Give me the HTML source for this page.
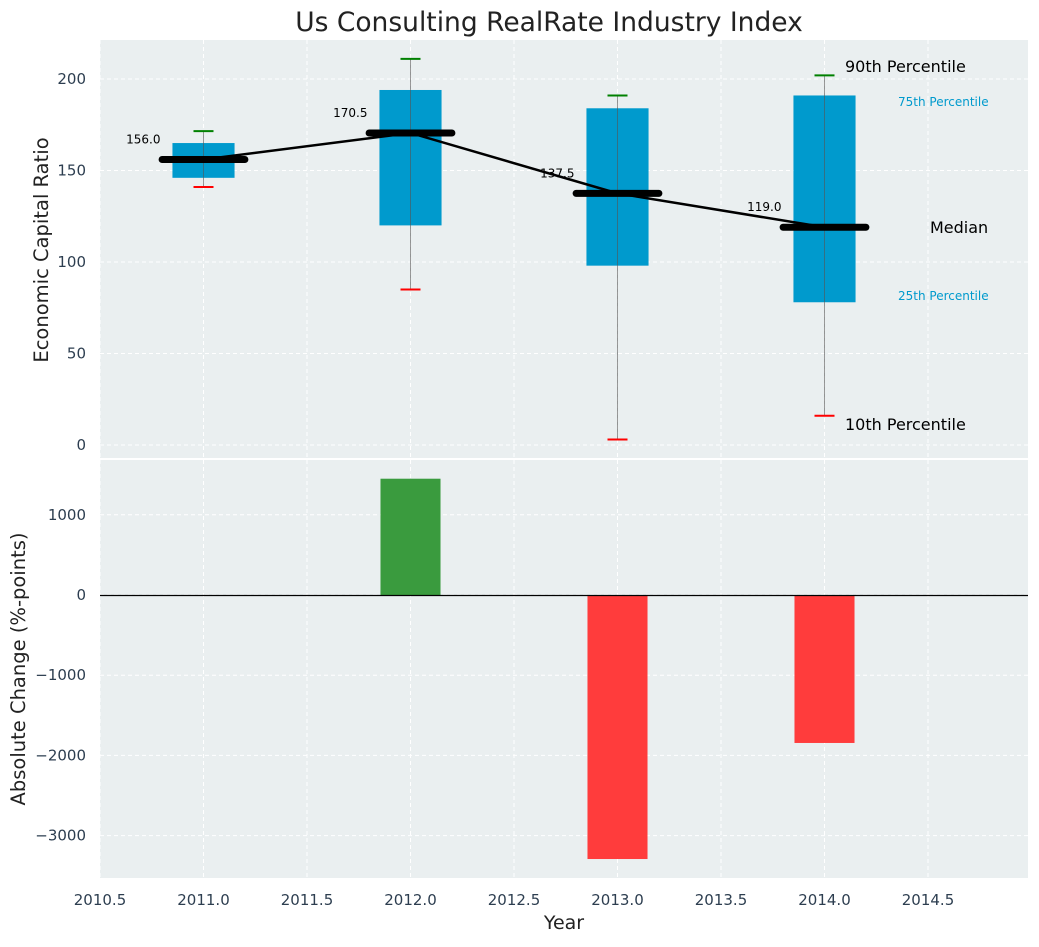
<!DOCTYPE html>
<html><head><meta charset="utf-8"><style>
body{margin:0;background:#fff;font-family:"Liberation Sans","DejaVu Sans",sans-serif}
svg text{font-family:"DejaVu Sans","Liberation Sans",sans-serif}
</style></head><body>
<svg id="c" width="1039" height="942" xmlns="http://www.w3.org/2000/svg"></svg>
<script>
const years=[2011,2012,2013,2014];
const p10=[141,85,3,16];
const p25=[146,120,98,78];
const med=[156,170.5,137.5,119];
const p75=[165,194,184,191];
const p90=[171.5,211,191,202];
const changes=[0,1450,-3292,-1845];
const xTicks=[2010.5,2011,2011.5,2012,2012.5,2013,2013.5,2014,2014.5];
const yTopTicks=[0,50,100,150,200];
const yBotTicks=[-3000,-2000,-1000,0,1000];

const L=100,R=1028,T1=40,B1=458,T2=460,B2=878;
const X=v=>L+(v-2010.5)*207;
const Y1=v=>445-(v)*1.83;
const Y2=v=>595-v*0.0802;
const svg=document.getElementById('c');
const NS='http://www.w3.org/2000/svg';
function el(t,a,txt){const e=document.createElementNS(NS,t);for(const k in a)e.setAttribute(k,a[k]);if(txt!==undefined)e.textContent=txt;svg.appendChild(e);return e;}

let e;
e=el('rect',{x:L,y:T1,width:R-L,height:B1-T1,fill:'#eaeff0'});


e=el('rect',{x:L,y:T2,width:R-L,height:B2-T2,fill:'#eaeff0'});



xTicks.forEach(t=>{
  el('line',{x1:X(t),x2:X(t),y1:T1,y2:B1,stroke:'#fff','stroke-dasharray':'4,3','stroke-width':1});
  el('line',{x1:X(t),x2:X(t),y1:T2,y2:B2,stroke:'#fff','stroke-dasharray':'4,3','stroke-width':1});
  e=el('text',{x:X(t),y:905,'font-size':15,fill:'#2d3e50','text-anchor':'middle'},t.toFixed(1));
  
  
});
yTopTicks.forEach(t=>{
  el('line',{x1:L,x2:R,y1:Y1(t),y2:Y1(t),stroke:'#fff','stroke-dasharray':'4,3'});
  e=el('text',{x:86,y:Y1(t)+5,'font-size':15,fill:'#2d3e50','text-anchor':'end'},t);
  
  
});
yBotTicks.forEach(t=>{
  el('line',{x1:L,x2:R,y1:Y2(t),y2:Y2(t),stroke:'#fff','stroke-dasharray':'4,3'});
  e=el('text',{x:86,y:Y2(t)+5,'font-size':15,fill:'#2d3e50','text-anchor':'end'},t<0?'\u2212'+(-t):t);
  
  
});

years.forEach((yr,i)=>{
  const cx=X(yr),hw=0.15*207;
  e=el('rect',{x:cx-hw,y:Y1(p75[i]),width:2*hw,height:Y1(p25[i])-Y1(p75[i]),fill:'#009ACD'});
  
  
  el('line',{x1:cx,x2:cx,y1:Y1(p90[i]),y2:Y1(p10[i]),stroke:'#555','stroke-width':1,opacity:0.6});
  el('line',{x1:cx-10,x2:cx+10,y1:Y1(p90[i]),y2:Y1(p90[i]),stroke:'green','stroke-width':2});
  el('line',{x1:cx-10,x2:cx+10,y1:Y1(p10[i]),y2:Y1(p10[i]),stroke:'red','stroke-width':2});
});
let pts=years.map((y,i)=>X(y)+','+Y1(med[i])).join(' ');
e=el('polyline',{points:pts,fill:'none',stroke:'#000','stroke-width':2.5});


years.forEach((yr,i)=>{
  const cx=X(yr);
  e=el('line',{x1:cx-0.2*207,x2:cx+0.2*207,y1:Y1(med[i]),y2:Y1(med[i]),stroke:'#000','stroke-width':7,'stroke-linecap':'round'});
  
  
  e=el('text',{x:cx-43,y:Y1(med[i])-16,'font-size':12,fill:'#000','text-anchor':'end'},med[i].toFixed(1));
  
  
});
const ann=[['90th Percentile',845,72,16,'#000'],['75th Percentile',898,106,12,'#009ACD'],['Median',930,233,16,'#000'],['25th Percentile',898,300,12,'#009ACD'],['10th Percentile',845,430,16,'#000']];
ann.forEach(a=>{e=el('text',{x:a[1],y:a[2],'font-size':a[3],fill:a[4]},a[0]);
  
  });

years.forEach((yr,i)=>{
  const v=changes[i];if(!v)return;
  const cx=X(yr),hw=0.145*207;
  e=el('rect',{x:cx-hw,y:Math.min(Y2(0),Y2(v)),width:2*hw,height:Math.abs(Y2(v)-Y2(0)),fill:v>0?'#3a9b3e':'#ff3c3c'});
  
  
});
el('line',{x1:L,x2:R,y1:Y2(0)+0.5,y2:Y2(0)+0.5,stroke:'#000','stroke-width':1.2});

e=el('text',{x:549,y:31,'font-size':26.5,fill:'#222','text-anchor':'middle'},'Us Consulting RealRate Industry Index');

e=el('text',{x:0,y:0,'font-size':19.5,fill:'#222','text-anchor':'middle',transform:'translate(48,250) rotate(-90)'},'Economic Capital Ratio');

e=el('text',{x:0,y:0,'font-size':19.5,fill:'#222','text-anchor':'middle',transform:'translate(25,669) rotate(-90)'},'Absolute Change (%-points)');

e=el('text',{x:564,y:929,'font-size':19,fill:'#222','text-anchor':'middle'},'Year');

</script>
</body></html>
